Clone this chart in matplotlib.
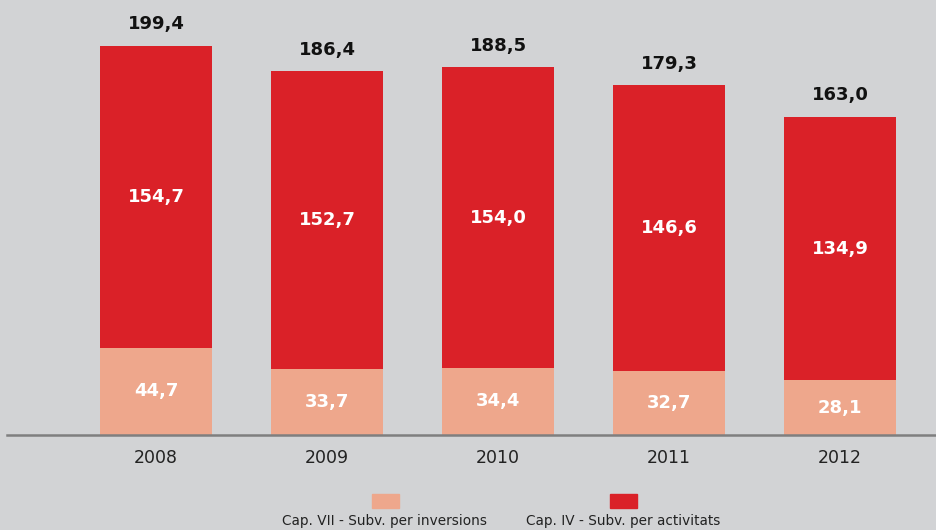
import matplotlib
matplotlib.use("Agg")
import matplotlib.pyplot as plt
from matplotlib.patches import Rectangle

years = ["2008", "2009", "2010", "2011", "2012"]
inversions = [44.7, 33.7, 34.4, 32.7, 28.1]
activitats = [154.7, 152.7, 154.0, 146.6, 134.9]
totals = [199.4, 186.4, 188.5, 179.3, 163.0]

BG = "#d2d3d5"
RED = "#da2128"
PINK = "#eea78c"

def fmt(v):
    return f"{v:.1f}".replace(".", ",")

W, H = 936, 530
fig = plt.figure(figsize=(W / 100, H / 100), dpi=100, facecolor=BG)
ax = fig.add_axes([7 / W, (H - 435) / H, (W - 7) / W, 435 / H])
ax.set_facecolor(BG)

x = list(range(len(years)))
width = 0.655
ax.bar(x, inversions, width=width, color=PINK, zorder=2)
ax.bar(x, activitats, width=width, bottom=inversions, color=RED, zorder=2)

ax.set_xlim(-0.871, 4.561)
ax.set_ylim(0, 223)

for i in x:
    ax.text(i, inversions[i] / 2, fmt(inversions[i]), ha="center", va="center",
            color="white", fontsize=13, fontweight="bold")
    ax.text(i, inversions[i] + activitats[i] / 2, fmt(activitats[i]), ha="center",
            va="center", color="white", fontsize=13, fontweight="bold")
    ax.text(i, totals[i] + 6.5, fmt(totals[i]), ha="center", va="bottom",
            color="#111111", fontsize=13, fontweight="bold")

for s in ["top", "right", "left"]:
    ax.spines[s].set_visible(False)
ax.spines["bottom"].set_color("#7f7f7f")
ax.spines["bottom"].set_linewidth(1.8)
ax.set_yticks([])
ax.set_xticks(x)
ax.set_xticklabels(years, fontsize=12.5, color="#222222")
ax.tick_params(axis="x", length=0, pad=10)

# legend
sq_w, sq_h = 27, 14
for cx, col, label in [(385, PINK, "Cap. VII - Subv. per inversions"),
                       (623, RED, "Cap. IV - Subv. per activitats")]:
    fig.patches.append(Rectangle(((cx - sq_w / 2) / W, (H - 508) / H), sq_w / W, sq_h / H,
                                 transform=fig.transFigure, color=col))
    fig.text(cx / W, (H - 521) / H, label, ha="center", va="center", fontsize=9.8,
             color="#222222")

fig.savefig("out.png", dpi=100, facecolor=BG)
